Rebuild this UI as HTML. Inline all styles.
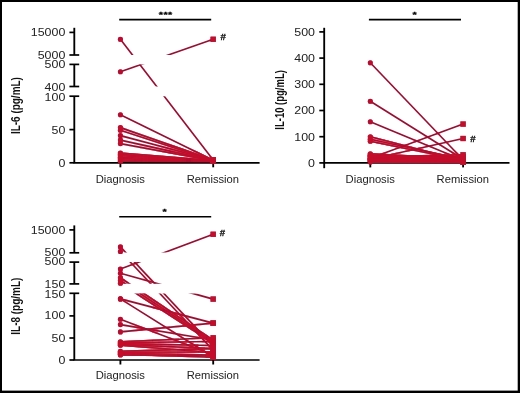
<!DOCTYPE html>
<html lang="en"><head><meta charset="utf-8"><title>Cytokine levels at diagnosis and remission</title>
<style>
html,body{margin:0;padding:0;background:#fff;}
body{width:520px;height:393px;overflow:hidden;font-family:"Liberation Sans",Arial,sans-serif;}
svg{display:block;}
</style></head><body>
<svg width="520" height="393" viewBox="0 0 520 393" font-family="'Liberation Sans', Arial, sans-serif">
<defs><filter id="jp" filterUnits="userSpaceOnUse" x="-10" y="-10" width="540" height="413" color-interpolation-filters="sRGB">
<feColorMatrix in="SourceGraphic" type="matrix" values="0.299 0.587 0.114 0 0  0.299 0.587 0.114 0 0  0.299 0.587 0.114 0 0  0 0 0 1 0" result="Y"/>
<feColorMatrix in="SourceGraphic" type="matrix" values="0.3505 -0.2935 -0.057 0 0.50196  -0.1495 0.2065 -0.057 0 0.50196  -0.1495 -0.2935 0.443 0 0.50196  0 0 0 1 0" result="C"/>
<feGaussianBlur in="C" stdDeviation="0.8" result="CB"/>
<feComposite in="Y" in2="CB" operator="arithmetic" k1="0" k2="1" k3="2" k4="-1.00392"/>
</filter>
<filter id="open" filterUnits="userSpaceOnUse" x="0" y="0" width="520" height="393">
<feMorphology operator="erode" radius="1"/>
<feMorphology operator="dilate" radius="1"/>
</filter>
<filter id="open2" filterUnits="userSpaceOnUse" x="0" y="0" width="520" height="393">
<feMorphology operator="erode" radius="2"/>
<feMorphology operator="dilate" radius="2"/>
</filter></defs>
<g filter="url(#jp)">
<rect x="-10" y="-10" width="540" height="413" fill="#000"/>
<rect x="2" y="2" width="515.7" height="388.6" fill="#fff"/>
<defs>
<clipPath id="c1">
<rect x="69.5" y="20.0" width="200" height="35.0"/>
<rect x="69.5" y="64.4" width="200" height="22.1"/>
<rect x="69.5" y="96.2" width="200" height="73.8"/>
</clipPath>
<clipPath id="c3">
<rect x="69.5" y="217.0" width="200" height="35.6"/>
<rect x="69.5" y="261.9" width="200" height="21.9"/>
<rect x="69.5" y="293.4" width="200" height="74.6"/>
</clipPath>
</defs>
<line x1="73.4" y1="162.8" x2="259.6" y2="162.8" stroke="#000" stroke-width="1.7"/>
<line x1="120.4" y1="162.8" x2="120.4" y2="167.3" stroke="#000" stroke-width="1.85"/>
<line x1="213.2" y1="162.8" x2="213.2" y2="167.3" stroke="#000" stroke-width="1.85"/>
<text transform="translate(120.3,182.7) scale(0.96,1)" text-anchor="middle" font-size="11.7" fill="#222">Diagnosis</text>
<text transform="translate(212.9,182.7) scale(0.96,1)" text-anchor="middle" font-size="11.7" fill="#222">Remission</text>
<line x1="74.3" y1="27.8" x2="74.3" y2="55.0" stroke="#000" stroke-width="1.85"/>
<line x1="69.4" y1="32.4" x2="74.3" y2="32.4" stroke="#000" stroke-width="1.7"/>
<line x1="69.4" y1="55.0" x2="79.2" y2="55.0" stroke="#000" stroke-width="1.7"/>
<line x1="74.3" y1="64.4" x2="74.3" y2="86.5" stroke="#000" stroke-width="1.85"/>
<line x1="69.4" y1="64.4" x2="79.2" y2="64.4" stroke="#000" stroke-width="1.7"/>
<line x1="69.4" y1="86.5" x2="79.2" y2="86.5" stroke="#000" stroke-width="1.7"/>
<line x1="74.3" y1="96.2" x2="74.3" y2="162.8" stroke="#000" stroke-width="1.85"/>
<line x1="69.4" y1="96.2" x2="79.2" y2="96.2" stroke="#000" stroke-width="1.7"/>
<line x1="69.4" y1="129.6" x2="74.3" y2="129.6" stroke="#000" stroke-width="1.7"/>
<line x1="69.4" y1="162.8" x2="74.3" y2="162.8" stroke="#000" stroke-width="1.7"/>
<text transform="translate(65.3,36.4) scale(1.13,1)" text-anchor="end" font-size="11" fill="#222">15000</text>
<text transform="translate(65.3,58.8) scale(1.13,1)" text-anchor="end" font-size="11" fill="#222">5000</text>
<text transform="translate(65.3,68.2) scale(1.13,1)" text-anchor="end" font-size="11" fill="#222">500</text>
<text transform="translate(65.3,90.5) scale(1.13,1)" text-anchor="end" font-size="11" fill="#222">400</text>
<text transform="translate(65.3,100.5) scale(1.13,1)" text-anchor="end" font-size="11" fill="#222">100</text>
<text transform="translate(65.3,133.7) scale(1.13,1)" text-anchor="end" font-size="11" fill="#222">50</text>
<text transform="translate(65.3,166.7) scale(1.13,1)" text-anchor="end" font-size="11" fill="#222">0</text>
<text transform="translate(20.4,105.6) rotate(-90)" text-anchor="middle" font-size="12" font-weight="bold" fill="#111" textLength="57" lengthAdjust="spacingAndGlyphs">IL-6 (pg/mL)</text>
<line x1="119.2" y1="19.6" x2="211.2" y2="19.6" stroke="#000" stroke-width="1.6"/>
<text transform="translate(165.7,16.9) scale(1.2,0.88)" text-anchor="middle" font-size="9" letter-spacing="0.35" font-weight="bold" fill="#000" stroke="#000" stroke-width="0.35">***</text>
<line x1="120.4" y1="39.3" x2="213.2" y2="160.0" stroke="#980e34" stroke-width="1.65" clip-path="url(#c1)"/>
<line x1="120.4" y1="71.7" x2="213.2" y2="39.3" stroke="#980e34" stroke-width="1.65" clip-path="url(#c1)"/>
<line x1="120.4" y1="114.8" x2="213.2" y2="160.2" stroke="#980e34" stroke-width="1.65" clip-path="url(#c1)"/>
<line x1="120.4" y1="127.6" x2="213.2" y2="160.0" stroke="#980e34" stroke-width="1.65" clip-path="url(#c1)"/>
<line x1="120.4" y1="130.3" x2="213.2" y2="160.5" stroke="#980e34" stroke-width="1.65" clip-path="url(#c1)"/>
<line x1="120.4" y1="135.6" x2="213.2" y2="160.3" stroke="#980e34" stroke-width="1.65" clip-path="url(#c1)"/>
<line x1="120.4" y1="140.1" x2="213.2" y2="160.6" stroke="#980e34" stroke-width="1.65" clip-path="url(#c1)"/>
<line x1="120.4" y1="143.6" x2="213.2" y2="160.8" stroke="#980e34" stroke-width="1.65" clip-path="url(#c1)"/>
<line x1="120.4" y1="153.0" x2="213.2" y2="160.5" stroke="#980e34" stroke-width="1.65" clip-path="url(#c1)"/>
<line x1="120.4" y1="154.4" x2="213.2" y2="161.0" stroke="#980e34" stroke-width="1.65" clip-path="url(#c1)"/>
<line x1="120.4" y1="155.8" x2="213.2" y2="160.8" stroke="#980e34" stroke-width="1.65" clip-path="url(#c1)"/>
<line x1="120.4" y1="157.2" x2="213.2" y2="161.0" stroke="#980e34" stroke-width="1.65" clip-path="url(#c1)"/>
<line x1="120.4" y1="158.6" x2="213.2" y2="161.2" stroke="#980e34" stroke-width="1.65" clip-path="url(#c1)"/>
<line x1="120.4" y1="160.0" x2="213.2" y2="161.0" stroke="#980e34" stroke-width="1.65" clip-path="url(#c1)"/>
<line x1="120.4" y1="161.2" x2="213.2" y2="161.4" stroke="#980e34" stroke-width="1.65" clip-path="url(#c1)"/>
<circle cx="120.4" cy="39.3" r="2.55" fill="#a51136"/>
<circle cx="120.4" cy="71.7" r="2.55" fill="#a51136"/>
<circle cx="120.4" cy="114.8" r="2.55" fill="#a51136"/>
<circle cx="120.4" cy="127.6" r="2.55" fill="#a51136"/>
<circle cx="120.4" cy="130.3" r="2.55" fill="#a51136"/>
<circle cx="120.4" cy="135.6" r="2.55" fill="#a51136"/>
<circle cx="120.4" cy="140.1" r="2.55" fill="#a51136"/>
<circle cx="120.4" cy="143.6" r="2.55" fill="#a51136"/>
<circle cx="120.4" cy="153.0" r="2.55" fill="#a51136"/>
<circle cx="120.4" cy="154.4" r="2.55" fill="#a51136"/>
<circle cx="120.4" cy="155.8" r="2.55" fill="#a51136"/>
<circle cx="120.4" cy="157.2" r="2.55" fill="#a51136"/>
<circle cx="120.4" cy="158.6" r="2.55" fill="#a51136"/>
<circle cx="120.4" cy="160.0" r="2.55" fill="#a51136"/>
<circle cx="120.4" cy="161.2" r="2.55" fill="#a51136"/>
<rect x="210.6" y="157.4" width="5.2" height="5.2" fill="#a51136"/>
<rect x="210.6" y="36.7" width="5.2" height="5.2" fill="#a51136"/>
<rect x="210.6" y="157.6" width="5.2" height="5.2" fill="#a51136"/>
<rect x="210.6" y="157.4" width="5.2" height="5.2" fill="#a51136"/>
<rect x="210.6" y="157.9" width="5.2" height="5.2" fill="#a51136"/>
<rect x="210.6" y="157.7" width="5.2" height="5.2" fill="#a51136"/>
<rect x="210.6" y="158.0" width="5.2" height="5.2" fill="#a51136"/>
<rect x="210.6" y="158.2" width="5.2" height="5.2" fill="#a51136"/>
<rect x="210.6" y="157.9" width="5.2" height="5.2" fill="#a51136"/>
<rect x="210.6" y="158.4" width="5.2" height="5.2" fill="#a51136"/>
<rect x="210.6" y="158.2" width="5.2" height="5.2" fill="#a51136"/>
<rect x="210.6" y="158.4" width="5.2" height="5.2" fill="#a51136"/>
<rect x="210.6" y="158.6" width="5.2" height="5.2" fill="#a51136"/>
<rect x="210.6" y="158.4" width="5.2" height="5.2" fill="#a51136"/>
<rect x="210.6" y="158.8" width="5.2" height="5.2" fill="#a51136"/>
<text x="220.5" y="39.5" font-size="9.6" font-weight="bold" fill="#111" stroke="#111" stroke-width="0.3">#</text>
<line x1="323.3" y1="162.9" x2="509.5" y2="162.9" stroke="#000" stroke-width="1.7"/>
<line x1="370.3" y1="162.9" x2="370.3" y2="167.4" stroke="#000" stroke-width="1.85"/>
<line x1="463.1" y1="162.9" x2="463.1" y2="167.4" stroke="#000" stroke-width="1.85"/>
<text transform="translate(370.2,182.7) scale(0.96,1)" text-anchor="middle" font-size="11.7" fill="#222">Diagnosis</text>
<text transform="translate(462.8,182.7) scale(0.96,1)" text-anchor="middle" font-size="11.7" fill="#222">Remission</text>
<line x1="324.2" y1="27.8" x2="324.2" y2="168.2" stroke="#000" stroke-width="1.85"/>
<line x1="319.3" y1="162.9" x2="324.2" y2="162.9" stroke="#000" stroke-width="1.7"/>
<text transform="translate(315.0,166.7) scale(1.13,1)" text-anchor="end" font-size="11" fill="#222">0</text>
<line x1="319.3" y1="136.7" x2="324.2" y2="136.7" stroke="#000" stroke-width="1.7"/>
<text transform="translate(315.0,140.5) scale(1.13,1)" text-anchor="end" font-size="11" fill="#222">100</text>
<line x1="319.3" y1="110.5" x2="324.2" y2="110.5" stroke="#000" stroke-width="1.7"/>
<text transform="translate(315.0,114.3) scale(1.13,1)" text-anchor="end" font-size="11" fill="#222">200</text>
<line x1="319.3" y1="84.3" x2="324.2" y2="84.3" stroke="#000" stroke-width="1.7"/>
<text transform="translate(315.0,88.1) scale(1.13,1)" text-anchor="end" font-size="11" fill="#222">300</text>
<line x1="319.3" y1="58.1" x2="324.2" y2="58.1" stroke="#000" stroke-width="1.7"/>
<text transform="translate(315.0,61.9) scale(1.13,1)" text-anchor="end" font-size="11" fill="#222">400</text>
<line x1="319.3" y1="31.9" x2="324.2" y2="31.9" stroke="#000" stroke-width="1.7"/>
<text transform="translate(315.0,35.7) scale(1.13,1)" text-anchor="end" font-size="11" fill="#222">500</text>
<text transform="translate(283.5,99.9) rotate(-90)" text-anchor="middle" font-size="12" font-weight="bold" fill="#111" textLength="59.5" lengthAdjust="spacingAndGlyphs">IL-10 (pg/mL)</text>
<line x1="368.9" y1="19.6" x2="461.0" y2="19.6" stroke="#000" stroke-width="1.6"/>
<text transform="translate(414.9,16.9) scale(1.2,0.88)" text-anchor="middle" font-size="9" letter-spacing="0.35" font-weight="bold" fill="#000" stroke="#000" stroke-width="0.35">*</text>
<line x1="370.3" y1="62.8" x2="463.1" y2="159.8" stroke="#980e34" stroke-width="1.65"/>
<line x1="370.3" y1="101.3" x2="463.1" y2="159.2" stroke="#980e34" stroke-width="1.65"/>
<line x1="370.3" y1="121.8" x2="463.1" y2="160.3" stroke="#980e34" stroke-width="1.65"/>
<line x1="370.3" y1="136.7" x2="463.1" y2="160.8" stroke="#980e34" stroke-width="1.65"/>
<line x1="370.3" y1="139.3" x2="463.1" y2="159.2" stroke="#980e34" stroke-width="1.65"/>
<line x1="370.3" y1="141.2" x2="463.1" y2="160.3" stroke="#980e34" stroke-width="1.65"/>
<line x1="370.3" y1="158.2" x2="463.1" y2="124.1" stroke="#980e34" stroke-width="1.65"/>
<line x1="370.3" y1="159.2" x2="463.1" y2="138.5" stroke="#980e34" stroke-width="1.65"/>
<line x1="370.3" y1="153.7" x2="463.1" y2="158.7" stroke="#980e34" stroke-width="1.65"/>
<line x1="370.3" y1="157.1" x2="463.1" y2="154.8" stroke="#980e34" stroke-width="1.65"/>
<line x1="370.3" y1="155.0" x2="463.1" y2="159.8" stroke="#980e34" stroke-width="1.65"/>
<line x1="370.3" y1="156.1" x2="463.1" y2="157.1" stroke="#980e34" stroke-width="1.65"/>
<line x1="370.3" y1="156.6" x2="463.1" y2="160.8" stroke="#980e34" stroke-width="1.65"/>
<line x1="370.3" y1="158.2" x2="463.1" y2="158.2" stroke="#980e34" stroke-width="1.65"/>
<line x1="370.3" y1="159.2" x2="463.1" y2="161.3" stroke="#980e34" stroke-width="1.65"/>
<line x1="370.3" y1="160.3" x2="463.1" y2="159.8" stroke="#980e34" stroke-width="1.65"/>
<line x1="370.3" y1="161.3" x2="463.1" y2="161.9" stroke="#980e34" stroke-width="1.65"/>
<line x1="370.3" y1="162.1" x2="463.1" y2="162.4" stroke="#980e34" stroke-width="1.65"/>
<line x1="370.3" y1="155.6" x2="463.1" y2="161.6" stroke="#980e34" stroke-width="1.65"/>
<line x1="370.3" y1="159.8" x2="463.1" y2="156.6" stroke="#980e34" stroke-width="1.65"/>
<circle cx="370.3" cy="62.8" r="2.55" fill="#a51136"/>
<circle cx="370.3" cy="101.3" r="2.55" fill="#a51136"/>
<circle cx="370.3" cy="121.8" r="2.55" fill="#a51136"/>
<circle cx="370.3" cy="136.7" r="2.55" fill="#a51136"/>
<circle cx="370.3" cy="139.3" r="2.55" fill="#a51136"/>
<circle cx="370.3" cy="141.2" r="2.55" fill="#a51136"/>
<circle cx="370.3" cy="158.2" r="2.55" fill="#a51136"/>
<circle cx="370.3" cy="159.2" r="2.55" fill="#a51136"/>
<circle cx="370.3" cy="153.7" r="2.55" fill="#a51136"/>
<circle cx="370.3" cy="157.1" r="2.55" fill="#a51136"/>
<circle cx="370.3" cy="155.0" r="2.55" fill="#a51136"/>
<circle cx="370.3" cy="156.1" r="2.55" fill="#a51136"/>
<circle cx="370.3" cy="156.6" r="2.55" fill="#a51136"/>
<circle cx="370.3" cy="158.2" r="2.55" fill="#a51136"/>
<circle cx="370.3" cy="159.2" r="2.55" fill="#a51136"/>
<circle cx="370.3" cy="160.3" r="2.55" fill="#a51136"/>
<circle cx="370.3" cy="161.3" r="2.55" fill="#a51136"/>
<circle cx="370.3" cy="162.1" r="2.55" fill="#a51136"/>
<circle cx="370.3" cy="155.6" r="2.55" fill="#a51136"/>
<circle cx="370.3" cy="159.8" r="2.55" fill="#a51136"/>
<rect x="460.5" y="157.2" width="5.2" height="5.2" fill="#a51136"/>
<rect x="460.5" y="156.6" width="5.2" height="5.2" fill="#a51136"/>
<rect x="460.5" y="157.7" width="5.2" height="5.2" fill="#a51136"/>
<rect x="460.5" y="158.2" width="5.2" height="5.2" fill="#a51136"/>
<rect x="460.5" y="156.6" width="5.2" height="5.2" fill="#a51136"/>
<rect x="460.5" y="157.7" width="5.2" height="5.2" fill="#a51136"/>
<rect x="460.5" y="121.5" width="5.2" height="5.2" fill="#a51136"/>
<rect x="460.5" y="135.9" width="5.2" height="5.2" fill="#a51136"/>
<rect x="460.5" y="156.1" width="5.2" height="5.2" fill="#a51136"/>
<rect x="460.5" y="152.2" width="5.2" height="5.2" fill="#a51136"/>
<rect x="460.5" y="157.2" width="5.2" height="5.2" fill="#a51136"/>
<rect x="460.5" y="154.5" width="5.2" height="5.2" fill="#a51136"/>
<rect x="460.5" y="158.2" width="5.2" height="5.2" fill="#a51136"/>
<rect x="460.5" y="155.6" width="5.2" height="5.2" fill="#a51136"/>
<rect x="460.5" y="158.7" width="5.2" height="5.2" fill="#a51136"/>
<rect x="460.5" y="157.2" width="5.2" height="5.2" fill="#a51136"/>
<rect x="460.5" y="159.3" width="5.2" height="5.2" fill="#a51136"/>
<rect x="460.5" y="159.8" width="5.2" height="5.2" fill="#a51136"/>
<rect x="460.5" y="159.0" width="5.2" height="5.2" fill="#a51136"/>
<rect x="460.5" y="154.0" width="5.2" height="5.2" fill="#a51136"/>
<text x="470.3" y="141.6" font-size="9.6" font-weight="bold" fill="#111" stroke="#111" stroke-width="0.3">#</text>
<line x1="73.4" y1="360.0" x2="259.6" y2="360.0" stroke="#000" stroke-width="1.7"/>
<line x1="120.4" y1="360.0" x2="120.4" y2="364.5" stroke="#000" stroke-width="1.85"/>
<line x1="213.2" y1="360.0" x2="213.2" y2="364.5" stroke="#000" stroke-width="1.85"/>
<text transform="translate(120.3,378.6) scale(0.96,1)" text-anchor="middle" font-size="11.7" fill="#222">Diagnosis</text>
<text transform="translate(212.9,378.6) scale(0.96,1)" text-anchor="middle" font-size="11.7" fill="#222">Remission</text>
<line x1="74.3" y1="225.4" x2="74.3" y2="252.8" stroke="#000" stroke-width="1.85"/>
<line x1="69.4" y1="229.9" x2="74.3" y2="229.9" stroke="#000" stroke-width="1.7"/>
<line x1="69.4" y1="252.8" x2="79.2" y2="252.8" stroke="#000" stroke-width="1.7"/>
<line x1="74.3" y1="262.1" x2="74.3" y2="283.9" stroke="#000" stroke-width="1.85"/>
<line x1="69.4" y1="262.1" x2="79.2" y2="262.1" stroke="#000" stroke-width="1.7"/>
<line x1="69.4" y1="283.9" x2="79.2" y2="283.9" stroke="#000" stroke-width="1.7"/>
<line x1="74.3" y1="293.3" x2="74.3" y2="360.0" stroke="#000" stroke-width="1.85"/>
<line x1="69.4" y1="293.3" x2="79.2" y2="293.3" stroke="#000" stroke-width="1.7"/>
<line x1="69.4" y1="315.9" x2="74.3" y2="315.9" stroke="#000" stroke-width="1.7"/>
<line x1="69.4" y1="338.0" x2="74.3" y2="338.0" stroke="#000" stroke-width="1.7"/>
<line x1="69.4" y1="360.0" x2="74.3" y2="360.0" stroke="#000" stroke-width="1.7"/>
<text transform="translate(65.3,233.9) scale(1.13,1)" text-anchor="end" font-size="11" fill="#222">15000</text>
<text transform="translate(65.3,255.8) scale(1.13,1)" text-anchor="end" font-size="11" fill="#222">500</text>
<text transform="translate(65.3,265.4) scale(1.13,1)" text-anchor="end" font-size="11" fill="#222">500</text>
<text transform="translate(65.3,288.0) scale(1.13,1)" text-anchor="end" font-size="11" fill="#222">150</text>
<text transform="translate(65.3,297.6) scale(1.13,1)" text-anchor="end" font-size="11" fill="#222">150</text>
<text transform="translate(65.3,319.3) scale(1.13,1)" text-anchor="end" font-size="11" fill="#222">100</text>
<text transform="translate(65.3,341.5) scale(1.13,1)" text-anchor="end" font-size="11" fill="#222">50</text>
<text transform="translate(65.3,363.9) scale(1.13,1)" text-anchor="end" font-size="11" fill="#222">0</text>
<text transform="translate(20.2,306.2) rotate(-90)" text-anchor="middle" font-size="12" font-weight="bold" fill="#111" textLength="57" lengthAdjust="spacingAndGlyphs">IL-8 (pg/mL)</text>
<line x1="119.2" y1="216.7" x2="211.2" y2="216.7" stroke="#000" stroke-width="1.6"/>
<text transform="translate(164.9,214.0) scale(1.2,0.88)" text-anchor="middle" font-size="9" letter-spacing="0.35" font-weight="bold" fill="#000" stroke="#000" stroke-width="0.35">*</text>
<line x1="120.4" y1="246.9" x2="213.2" y2="346.3" stroke="#980e34" stroke-width="1.65" clip-path="url(#c3)"/>
<line x1="120.4" y1="251.5" x2="213.2" y2="350.2" stroke="#980e34" stroke-width="1.65" clip-path="url(#c3)"/>
<line x1="120.4" y1="269.0" x2="213.2" y2="234.3" stroke="#980e34" stroke-width="1.65" clip-path="url(#c3)"/>
<line x1="120.4" y1="273.3" x2="213.2" y2="299.1" stroke="#980e34" stroke-width="1.65" clip-path="url(#c3)"/>
<line x1="120.4" y1="277.8" x2="213.2" y2="340.3" stroke="#980e34" stroke-width="1.65" clip-path="url(#c3)"/>
<line x1="120.4" y1="280.5" x2="213.2" y2="342.0" stroke="#980e34" stroke-width="1.65" clip-path="url(#c3)"/>
<line x1="120.4" y1="283.3" x2="213.2" y2="343.2" stroke="#980e34" stroke-width="1.65" clip-path="url(#c3)"/>
<line x1="120.4" y1="298.9" x2="213.2" y2="323.1" stroke="#980e34" stroke-width="1.65" clip-path="url(#c3)"/>
<line x1="120.4" y1="298.9" x2="213.2" y2="357.0" stroke="#980e34" stroke-width="1.65" clip-path="url(#c3)"/>
<line x1="120.4" y1="319.3" x2="213.2" y2="354.7" stroke="#980e34" stroke-width="1.65" clip-path="url(#c3)"/>
<line x1="120.4" y1="324.6" x2="213.2" y2="340.0" stroke="#980e34" stroke-width="1.65" clip-path="url(#c3)"/>
<line x1="120.4" y1="331.9" x2="213.2" y2="323.1" stroke="#980e34" stroke-width="1.65" clip-path="url(#c3)"/>
<line x1="120.4" y1="341.8" x2="213.2" y2="337.8" stroke="#980e34" stroke-width="1.65" clip-path="url(#c3)"/>
<line x1="120.4" y1="342.8" x2="213.2" y2="341.5" stroke="#980e34" stroke-width="1.65" clip-path="url(#c3)"/>
<line x1="120.4" y1="343.6" x2="213.2" y2="345.5" stroke="#980e34" stroke-width="1.65" clip-path="url(#c3)"/>
<line x1="120.4" y1="344.6" x2="213.2" y2="348.5" stroke="#980e34" stroke-width="1.65" clip-path="url(#c3)"/>
<line x1="120.4" y1="345.2" x2="213.2" y2="352.5" stroke="#980e34" stroke-width="1.65" clip-path="url(#c3)"/>
<line x1="120.4" y1="351.2" x2="213.2" y2="348.6" stroke="#980e34" stroke-width="1.65" clip-path="url(#c3)"/>
<line x1="120.4" y1="352.2" x2="213.2" y2="352.0" stroke="#980e34" stroke-width="1.65" clip-path="url(#c3)"/>
<line x1="120.4" y1="353.2" x2="213.2" y2="355.0" stroke="#980e34" stroke-width="1.65" clip-path="url(#c3)"/>
<line x1="120.4" y1="354.2" x2="213.2" y2="357.2" stroke="#980e34" stroke-width="1.65" clip-path="url(#c3)"/>
<line x1="120.4" y1="354.9" x2="213.2" y2="356.0" stroke="#980e34" stroke-width="1.65" clip-path="url(#c3)"/>
<circle cx="120.4" cy="246.9" r="2.55" fill="#a51136"/>
<circle cx="120.4" cy="251.5" r="2.55" fill="#a51136"/>
<circle cx="120.4" cy="269.0" r="2.55" fill="#a51136"/>
<circle cx="120.4" cy="273.3" r="2.55" fill="#a51136"/>
<circle cx="120.4" cy="277.8" r="2.55" fill="#a51136"/>
<circle cx="120.4" cy="280.5" r="2.55" fill="#a51136"/>
<circle cx="120.4" cy="283.3" r="2.55" fill="#a51136"/>
<circle cx="120.4" cy="298.9" r="2.55" fill="#a51136"/>
<circle cx="120.4" cy="298.9" r="2.55" fill="#a51136"/>
<circle cx="120.4" cy="319.3" r="2.55" fill="#a51136"/>
<circle cx="120.4" cy="324.6" r="2.55" fill="#a51136"/>
<circle cx="120.4" cy="331.9" r="2.55" fill="#a51136"/>
<circle cx="120.4" cy="341.8" r="2.55" fill="#a51136"/>
<circle cx="120.4" cy="342.8" r="2.55" fill="#a51136"/>
<circle cx="120.4" cy="343.6" r="2.55" fill="#a51136"/>
<circle cx="120.4" cy="344.6" r="2.55" fill="#a51136"/>
<circle cx="120.4" cy="345.2" r="2.55" fill="#a51136"/>
<circle cx="120.4" cy="351.2" r="2.55" fill="#a51136"/>
<circle cx="120.4" cy="352.2" r="2.55" fill="#a51136"/>
<circle cx="120.4" cy="353.2" r="2.55" fill="#a51136"/>
<circle cx="120.4" cy="354.2" r="2.55" fill="#a51136"/>
<circle cx="120.4" cy="354.9" r="2.55" fill="#a51136"/>
<rect x="210.6" y="343.7" width="5.2" height="5.2" fill="#a51136"/>
<rect x="210.6" y="347.6" width="5.2" height="5.2" fill="#a51136"/>
<rect x="210.6" y="231.7" width="5.2" height="5.2" fill="#a51136"/>
<rect x="210.6" y="296.5" width="5.2" height="5.2" fill="#a51136"/>
<rect x="210.6" y="337.7" width="5.2" height="5.2" fill="#a51136"/>
<rect x="210.6" y="339.4" width="5.2" height="5.2" fill="#a51136"/>
<rect x="210.6" y="340.6" width="5.2" height="5.2" fill="#a51136"/>
<rect x="210.6" y="320.5" width="5.2" height="5.2" fill="#a51136"/>
<rect x="210.6" y="354.4" width="5.2" height="5.2" fill="#a51136"/>
<rect x="210.6" y="352.1" width="5.2" height="5.2" fill="#a51136"/>
<rect x="210.6" y="337.4" width="5.2" height="5.2" fill="#a51136"/>
<rect x="210.6" y="320.5" width="5.2" height="5.2" fill="#a51136"/>
<rect x="210.6" y="335.2" width="5.2" height="5.2" fill="#a51136"/>
<rect x="210.6" y="338.9" width="5.2" height="5.2" fill="#a51136"/>
<rect x="210.6" y="342.9" width="5.2" height="5.2" fill="#a51136"/>
<rect x="210.6" y="345.9" width="5.2" height="5.2" fill="#a51136"/>
<rect x="210.6" y="349.9" width="5.2" height="5.2" fill="#a51136"/>
<rect x="210.6" y="346.0" width="5.2" height="5.2" fill="#a51136"/>
<rect x="210.6" y="349.4" width="5.2" height="5.2" fill="#a51136"/>
<rect x="210.6" y="352.4" width="5.2" height="5.2" fill="#a51136"/>
<rect x="210.6" y="354.6" width="5.2" height="5.2" fill="#a51136"/>
<rect x="210.6" y="353.4" width="5.2" height="5.2" fill="#a51136"/>
<text x="219.8" y="236.4" font-size="9.6" font-weight="bold" fill="#111" stroke="#111" stroke-width="0.3">#</text>
<g filter="url(#open)" opacity="0.55">
<line x1="120.4" y1="39.3" x2="213.2" y2="160.0" stroke="#c8102e" stroke-width="1.65" clip-path="url(#c1)"/>
<line x1="120.4" y1="71.7" x2="213.2" y2="39.3" stroke="#c8102e" stroke-width="1.65" clip-path="url(#c1)"/>
<line x1="120.4" y1="114.8" x2="213.2" y2="160.2" stroke="#c8102e" stroke-width="1.65" clip-path="url(#c1)"/>
<line x1="120.4" y1="127.6" x2="213.2" y2="160.0" stroke="#c8102e" stroke-width="1.65" clip-path="url(#c1)"/>
<line x1="120.4" y1="130.3" x2="213.2" y2="160.5" stroke="#c8102e" stroke-width="1.65" clip-path="url(#c1)"/>
<line x1="120.4" y1="135.6" x2="213.2" y2="160.3" stroke="#c8102e" stroke-width="1.65" clip-path="url(#c1)"/>
<line x1="120.4" y1="140.1" x2="213.2" y2="160.6" stroke="#c8102e" stroke-width="1.65" clip-path="url(#c1)"/>
<line x1="120.4" y1="143.6" x2="213.2" y2="160.8" stroke="#c8102e" stroke-width="1.65" clip-path="url(#c1)"/>
<line x1="120.4" y1="153.0" x2="213.2" y2="160.5" stroke="#c8102e" stroke-width="1.65" clip-path="url(#c1)"/>
<line x1="120.4" y1="154.4" x2="213.2" y2="161.0" stroke="#c8102e" stroke-width="1.65" clip-path="url(#c1)"/>
<line x1="120.4" y1="155.8" x2="213.2" y2="160.8" stroke="#c8102e" stroke-width="1.65" clip-path="url(#c1)"/>
<line x1="120.4" y1="157.2" x2="213.2" y2="161.0" stroke="#c8102e" stroke-width="1.65" clip-path="url(#c1)"/>
<line x1="120.4" y1="158.6" x2="213.2" y2="161.2" stroke="#c8102e" stroke-width="1.65" clip-path="url(#c1)"/>
<line x1="120.4" y1="160.0" x2="213.2" y2="161.0" stroke="#c8102e" stroke-width="1.65" clip-path="url(#c1)"/>
<line x1="120.4" y1="161.2" x2="213.2" y2="161.4" stroke="#c8102e" stroke-width="1.65" clip-path="url(#c1)"/>
<circle cx="120.4" cy="39.3" r="2.55" fill="#c8102e"/>
<circle cx="120.4" cy="71.7" r="2.55" fill="#c8102e"/>
<circle cx="120.4" cy="114.8" r="2.55" fill="#c8102e"/>
<circle cx="120.4" cy="127.6" r="2.55" fill="#c8102e"/>
<circle cx="120.4" cy="130.3" r="2.55" fill="#c8102e"/>
<circle cx="120.4" cy="135.6" r="2.55" fill="#c8102e"/>
<circle cx="120.4" cy="140.1" r="2.55" fill="#c8102e"/>
<circle cx="120.4" cy="143.6" r="2.55" fill="#c8102e"/>
<circle cx="120.4" cy="153.0" r="2.55" fill="#c8102e"/>
<circle cx="120.4" cy="154.4" r="2.55" fill="#c8102e"/>
<circle cx="120.4" cy="155.8" r="2.55" fill="#c8102e"/>
<circle cx="120.4" cy="157.2" r="2.55" fill="#c8102e"/>
<circle cx="120.4" cy="158.6" r="2.55" fill="#c8102e"/>
<circle cx="120.4" cy="160.0" r="2.55" fill="#c8102e"/>
<circle cx="120.4" cy="161.2" r="2.55" fill="#c8102e"/>
<rect x="210.6" y="157.4" width="5.2" height="5.2" fill="#c8102e"/>
<rect x="210.6" y="36.7" width="5.2" height="5.2" fill="#c8102e"/>
<rect x="210.6" y="157.6" width="5.2" height="5.2" fill="#c8102e"/>
<rect x="210.6" y="157.4" width="5.2" height="5.2" fill="#c8102e"/>
<rect x="210.6" y="157.9" width="5.2" height="5.2" fill="#c8102e"/>
<rect x="210.6" y="157.7" width="5.2" height="5.2" fill="#c8102e"/>
<rect x="210.6" y="158.0" width="5.2" height="5.2" fill="#c8102e"/>
<rect x="210.6" y="158.2" width="5.2" height="5.2" fill="#c8102e"/>
<rect x="210.6" y="157.9" width="5.2" height="5.2" fill="#c8102e"/>
<rect x="210.6" y="158.4" width="5.2" height="5.2" fill="#c8102e"/>
<rect x="210.6" y="158.2" width="5.2" height="5.2" fill="#c8102e"/>
<rect x="210.6" y="158.4" width="5.2" height="5.2" fill="#c8102e"/>
<rect x="210.6" y="158.6" width="5.2" height="5.2" fill="#c8102e"/>
<rect x="210.6" y="158.4" width="5.2" height="5.2" fill="#c8102e"/>
<rect x="210.6" y="158.8" width="5.2" height="5.2" fill="#c8102e"/>
<line x1="370.3" y1="62.8" x2="463.1" y2="159.8" stroke="#c8102e" stroke-width="1.65"/>
<line x1="370.3" y1="101.3" x2="463.1" y2="159.2" stroke="#c8102e" stroke-width="1.65"/>
<line x1="370.3" y1="121.8" x2="463.1" y2="160.3" stroke="#c8102e" stroke-width="1.65"/>
<line x1="370.3" y1="136.7" x2="463.1" y2="160.8" stroke="#c8102e" stroke-width="1.65"/>
<line x1="370.3" y1="139.3" x2="463.1" y2="159.2" stroke="#c8102e" stroke-width="1.65"/>
<line x1="370.3" y1="141.2" x2="463.1" y2="160.3" stroke="#c8102e" stroke-width="1.65"/>
<line x1="370.3" y1="158.2" x2="463.1" y2="124.1" stroke="#c8102e" stroke-width="1.65"/>
<line x1="370.3" y1="159.2" x2="463.1" y2="138.5" stroke="#c8102e" stroke-width="1.65"/>
<line x1="370.3" y1="153.7" x2="463.1" y2="158.7" stroke="#c8102e" stroke-width="1.65"/>
<line x1="370.3" y1="157.1" x2="463.1" y2="154.8" stroke="#c8102e" stroke-width="1.65"/>
<line x1="370.3" y1="155.0" x2="463.1" y2="159.8" stroke="#c8102e" stroke-width="1.65"/>
<line x1="370.3" y1="156.1" x2="463.1" y2="157.1" stroke="#c8102e" stroke-width="1.65"/>
<line x1="370.3" y1="156.6" x2="463.1" y2="160.8" stroke="#c8102e" stroke-width="1.65"/>
<line x1="370.3" y1="158.2" x2="463.1" y2="158.2" stroke="#c8102e" stroke-width="1.65"/>
<line x1="370.3" y1="159.2" x2="463.1" y2="161.3" stroke="#c8102e" stroke-width="1.65"/>
<line x1="370.3" y1="160.3" x2="463.1" y2="159.8" stroke="#c8102e" stroke-width="1.65"/>
<line x1="370.3" y1="161.3" x2="463.1" y2="161.9" stroke="#c8102e" stroke-width="1.65"/>
<line x1="370.3" y1="162.1" x2="463.1" y2="162.4" stroke="#c8102e" stroke-width="1.65"/>
<line x1="370.3" y1="155.6" x2="463.1" y2="161.6" stroke="#c8102e" stroke-width="1.65"/>
<line x1="370.3" y1="159.8" x2="463.1" y2="156.6" stroke="#c8102e" stroke-width="1.65"/>
<circle cx="370.3" cy="62.8" r="2.55" fill="#c8102e"/>
<circle cx="370.3" cy="101.3" r="2.55" fill="#c8102e"/>
<circle cx="370.3" cy="121.8" r="2.55" fill="#c8102e"/>
<circle cx="370.3" cy="136.7" r="2.55" fill="#c8102e"/>
<circle cx="370.3" cy="139.3" r="2.55" fill="#c8102e"/>
<circle cx="370.3" cy="141.2" r="2.55" fill="#c8102e"/>
<circle cx="370.3" cy="158.2" r="2.55" fill="#c8102e"/>
<circle cx="370.3" cy="159.2" r="2.55" fill="#c8102e"/>
<circle cx="370.3" cy="153.7" r="2.55" fill="#c8102e"/>
<circle cx="370.3" cy="157.1" r="2.55" fill="#c8102e"/>
<circle cx="370.3" cy="155.0" r="2.55" fill="#c8102e"/>
<circle cx="370.3" cy="156.1" r="2.55" fill="#c8102e"/>
<circle cx="370.3" cy="156.6" r="2.55" fill="#c8102e"/>
<circle cx="370.3" cy="158.2" r="2.55" fill="#c8102e"/>
<circle cx="370.3" cy="159.2" r="2.55" fill="#c8102e"/>
<circle cx="370.3" cy="160.3" r="2.55" fill="#c8102e"/>
<circle cx="370.3" cy="161.3" r="2.55" fill="#c8102e"/>
<circle cx="370.3" cy="162.1" r="2.55" fill="#c8102e"/>
<circle cx="370.3" cy="155.6" r="2.55" fill="#c8102e"/>
<circle cx="370.3" cy="159.8" r="2.55" fill="#c8102e"/>
<rect x="460.5" y="157.2" width="5.2" height="5.2" fill="#c8102e"/>
<rect x="460.5" y="156.6" width="5.2" height="5.2" fill="#c8102e"/>
<rect x="460.5" y="157.7" width="5.2" height="5.2" fill="#c8102e"/>
<rect x="460.5" y="158.2" width="5.2" height="5.2" fill="#c8102e"/>
<rect x="460.5" y="156.6" width="5.2" height="5.2" fill="#c8102e"/>
<rect x="460.5" y="157.7" width="5.2" height="5.2" fill="#c8102e"/>
<rect x="460.5" y="121.5" width="5.2" height="5.2" fill="#c8102e"/>
<rect x="460.5" y="135.9" width="5.2" height="5.2" fill="#c8102e"/>
<rect x="460.5" y="156.1" width="5.2" height="5.2" fill="#c8102e"/>
<rect x="460.5" y="152.2" width="5.2" height="5.2" fill="#c8102e"/>
<rect x="460.5" y="157.2" width="5.2" height="5.2" fill="#c8102e"/>
<rect x="460.5" y="154.5" width="5.2" height="5.2" fill="#c8102e"/>
<rect x="460.5" y="158.2" width="5.2" height="5.2" fill="#c8102e"/>
<rect x="460.5" y="155.6" width="5.2" height="5.2" fill="#c8102e"/>
<rect x="460.5" y="158.7" width="5.2" height="5.2" fill="#c8102e"/>
<rect x="460.5" y="157.2" width="5.2" height="5.2" fill="#c8102e"/>
<rect x="460.5" y="159.3" width="5.2" height="5.2" fill="#c8102e"/>
<rect x="460.5" y="159.8" width="5.2" height="5.2" fill="#c8102e"/>
<rect x="460.5" y="159.0" width="5.2" height="5.2" fill="#c8102e"/>
<rect x="460.5" y="154.0" width="5.2" height="5.2" fill="#c8102e"/>
<line x1="120.4" y1="246.9" x2="213.2" y2="346.3" stroke="#c8102e" stroke-width="1.65" clip-path="url(#c3)"/>
<line x1="120.4" y1="251.5" x2="213.2" y2="350.2" stroke="#c8102e" stroke-width="1.65" clip-path="url(#c3)"/>
<line x1="120.4" y1="269.0" x2="213.2" y2="234.3" stroke="#c8102e" stroke-width="1.65" clip-path="url(#c3)"/>
<line x1="120.4" y1="273.3" x2="213.2" y2="299.1" stroke="#c8102e" stroke-width="1.65" clip-path="url(#c3)"/>
<line x1="120.4" y1="277.8" x2="213.2" y2="340.3" stroke="#c8102e" stroke-width="1.65" clip-path="url(#c3)"/>
<line x1="120.4" y1="280.5" x2="213.2" y2="342.0" stroke="#c8102e" stroke-width="1.65" clip-path="url(#c3)"/>
<line x1="120.4" y1="283.3" x2="213.2" y2="343.2" stroke="#c8102e" stroke-width="1.65" clip-path="url(#c3)"/>
<line x1="120.4" y1="298.9" x2="213.2" y2="323.1" stroke="#c8102e" stroke-width="1.65" clip-path="url(#c3)"/>
<line x1="120.4" y1="298.9" x2="213.2" y2="357.0" stroke="#c8102e" stroke-width="1.65" clip-path="url(#c3)"/>
<line x1="120.4" y1="319.3" x2="213.2" y2="354.7" stroke="#c8102e" stroke-width="1.65" clip-path="url(#c3)"/>
<line x1="120.4" y1="324.6" x2="213.2" y2="340.0" stroke="#c8102e" stroke-width="1.65" clip-path="url(#c3)"/>
<line x1="120.4" y1="331.9" x2="213.2" y2="323.1" stroke="#c8102e" stroke-width="1.65" clip-path="url(#c3)"/>
<line x1="120.4" y1="341.8" x2="213.2" y2="337.8" stroke="#c8102e" stroke-width="1.65" clip-path="url(#c3)"/>
<line x1="120.4" y1="342.8" x2="213.2" y2="341.5" stroke="#c8102e" stroke-width="1.65" clip-path="url(#c3)"/>
<line x1="120.4" y1="343.6" x2="213.2" y2="345.5" stroke="#c8102e" stroke-width="1.65" clip-path="url(#c3)"/>
<line x1="120.4" y1="344.6" x2="213.2" y2="348.5" stroke="#c8102e" stroke-width="1.65" clip-path="url(#c3)"/>
<line x1="120.4" y1="345.2" x2="213.2" y2="352.5" stroke="#c8102e" stroke-width="1.65" clip-path="url(#c3)"/>
<line x1="120.4" y1="351.2" x2="213.2" y2="348.6" stroke="#c8102e" stroke-width="1.65" clip-path="url(#c3)"/>
<line x1="120.4" y1="352.2" x2="213.2" y2="352.0" stroke="#c8102e" stroke-width="1.65" clip-path="url(#c3)"/>
<line x1="120.4" y1="353.2" x2="213.2" y2="355.0" stroke="#c8102e" stroke-width="1.65" clip-path="url(#c3)"/>
<line x1="120.4" y1="354.2" x2="213.2" y2="357.2" stroke="#c8102e" stroke-width="1.65" clip-path="url(#c3)"/>
<line x1="120.4" y1="354.9" x2="213.2" y2="356.0" stroke="#c8102e" stroke-width="1.65" clip-path="url(#c3)"/>
<circle cx="120.4" cy="246.9" r="2.55" fill="#c8102e"/>
<circle cx="120.4" cy="251.5" r="2.55" fill="#c8102e"/>
<circle cx="120.4" cy="269.0" r="2.55" fill="#c8102e"/>
<circle cx="120.4" cy="273.3" r="2.55" fill="#c8102e"/>
<circle cx="120.4" cy="277.8" r="2.55" fill="#c8102e"/>
<circle cx="120.4" cy="280.5" r="2.55" fill="#c8102e"/>
<circle cx="120.4" cy="283.3" r="2.55" fill="#c8102e"/>
<circle cx="120.4" cy="298.9" r="2.55" fill="#c8102e"/>
<circle cx="120.4" cy="298.9" r="2.55" fill="#c8102e"/>
<circle cx="120.4" cy="319.3" r="2.55" fill="#c8102e"/>
<circle cx="120.4" cy="324.6" r="2.55" fill="#c8102e"/>
<circle cx="120.4" cy="331.9" r="2.55" fill="#c8102e"/>
<circle cx="120.4" cy="341.8" r="2.55" fill="#c8102e"/>
<circle cx="120.4" cy="342.8" r="2.55" fill="#c8102e"/>
<circle cx="120.4" cy="343.6" r="2.55" fill="#c8102e"/>
<circle cx="120.4" cy="344.6" r="2.55" fill="#c8102e"/>
<circle cx="120.4" cy="345.2" r="2.55" fill="#c8102e"/>
<circle cx="120.4" cy="351.2" r="2.55" fill="#c8102e"/>
<circle cx="120.4" cy="352.2" r="2.55" fill="#c8102e"/>
<circle cx="120.4" cy="353.2" r="2.55" fill="#c8102e"/>
<circle cx="120.4" cy="354.2" r="2.55" fill="#c8102e"/>
<circle cx="120.4" cy="354.9" r="2.55" fill="#c8102e"/>
<rect x="210.6" y="343.7" width="5.2" height="5.2" fill="#c8102e"/>
<rect x="210.6" y="347.6" width="5.2" height="5.2" fill="#c8102e"/>
<rect x="210.6" y="231.7" width="5.2" height="5.2" fill="#c8102e"/>
<rect x="210.6" y="296.5" width="5.2" height="5.2" fill="#c8102e"/>
<rect x="210.6" y="337.7" width="5.2" height="5.2" fill="#c8102e"/>
<rect x="210.6" y="339.4" width="5.2" height="5.2" fill="#c8102e"/>
<rect x="210.6" y="340.6" width="5.2" height="5.2" fill="#c8102e"/>
<rect x="210.6" y="320.5" width="5.2" height="5.2" fill="#c8102e"/>
<rect x="210.6" y="354.4" width="5.2" height="5.2" fill="#c8102e"/>
<rect x="210.6" y="352.1" width="5.2" height="5.2" fill="#c8102e"/>
<rect x="210.6" y="337.4" width="5.2" height="5.2" fill="#c8102e"/>
<rect x="210.6" y="320.5" width="5.2" height="5.2" fill="#c8102e"/>
<rect x="210.6" y="335.2" width="5.2" height="5.2" fill="#c8102e"/>
<rect x="210.6" y="338.9" width="5.2" height="5.2" fill="#c8102e"/>
<rect x="210.6" y="342.9" width="5.2" height="5.2" fill="#c8102e"/>
<rect x="210.6" y="345.9" width="5.2" height="5.2" fill="#c8102e"/>
<rect x="210.6" y="349.9" width="5.2" height="5.2" fill="#c8102e"/>
<rect x="210.6" y="346.0" width="5.2" height="5.2" fill="#c8102e"/>
<rect x="210.6" y="349.4" width="5.2" height="5.2" fill="#c8102e"/>
<rect x="210.6" y="352.4" width="5.2" height="5.2" fill="#c8102e"/>
<rect x="210.6" y="354.6" width="5.2" height="5.2" fill="#c8102e"/>
<rect x="210.6" y="353.4" width="5.2" height="5.2" fill="#c8102e"/>
</g>
<g filter="url(#open2)" opacity="0.85">
<line x1="120.4" y1="39.3" x2="213.2" y2="160.0" stroke="#c8102e" stroke-width="1.65" clip-path="url(#c1)"/>
<line x1="120.4" y1="71.7" x2="213.2" y2="39.3" stroke="#c8102e" stroke-width="1.65" clip-path="url(#c1)"/>
<line x1="120.4" y1="114.8" x2="213.2" y2="160.2" stroke="#c8102e" stroke-width="1.65" clip-path="url(#c1)"/>
<line x1="120.4" y1="127.6" x2="213.2" y2="160.0" stroke="#c8102e" stroke-width="1.65" clip-path="url(#c1)"/>
<line x1="120.4" y1="130.3" x2="213.2" y2="160.5" stroke="#c8102e" stroke-width="1.65" clip-path="url(#c1)"/>
<line x1="120.4" y1="135.6" x2="213.2" y2="160.3" stroke="#c8102e" stroke-width="1.65" clip-path="url(#c1)"/>
<line x1="120.4" y1="140.1" x2="213.2" y2="160.6" stroke="#c8102e" stroke-width="1.65" clip-path="url(#c1)"/>
<line x1="120.4" y1="143.6" x2="213.2" y2="160.8" stroke="#c8102e" stroke-width="1.65" clip-path="url(#c1)"/>
<line x1="120.4" y1="153.0" x2="213.2" y2="160.5" stroke="#c8102e" stroke-width="1.65" clip-path="url(#c1)"/>
<line x1="120.4" y1="154.4" x2="213.2" y2="161.0" stroke="#c8102e" stroke-width="1.65" clip-path="url(#c1)"/>
<line x1="120.4" y1="155.8" x2="213.2" y2="160.8" stroke="#c8102e" stroke-width="1.65" clip-path="url(#c1)"/>
<line x1="120.4" y1="157.2" x2="213.2" y2="161.0" stroke="#c8102e" stroke-width="1.65" clip-path="url(#c1)"/>
<line x1="120.4" y1="158.6" x2="213.2" y2="161.2" stroke="#c8102e" stroke-width="1.65" clip-path="url(#c1)"/>
<line x1="120.4" y1="160.0" x2="213.2" y2="161.0" stroke="#c8102e" stroke-width="1.65" clip-path="url(#c1)"/>
<line x1="120.4" y1="161.2" x2="213.2" y2="161.4" stroke="#c8102e" stroke-width="1.65" clip-path="url(#c1)"/>
<circle cx="120.4" cy="39.3" r="2.55" fill="#c8102e"/>
<circle cx="120.4" cy="71.7" r="2.55" fill="#c8102e"/>
<circle cx="120.4" cy="114.8" r="2.55" fill="#c8102e"/>
<circle cx="120.4" cy="127.6" r="2.55" fill="#c8102e"/>
<circle cx="120.4" cy="130.3" r="2.55" fill="#c8102e"/>
<circle cx="120.4" cy="135.6" r="2.55" fill="#c8102e"/>
<circle cx="120.4" cy="140.1" r="2.55" fill="#c8102e"/>
<circle cx="120.4" cy="143.6" r="2.55" fill="#c8102e"/>
<circle cx="120.4" cy="153.0" r="2.55" fill="#c8102e"/>
<circle cx="120.4" cy="154.4" r="2.55" fill="#c8102e"/>
<circle cx="120.4" cy="155.8" r="2.55" fill="#c8102e"/>
<circle cx="120.4" cy="157.2" r="2.55" fill="#c8102e"/>
<circle cx="120.4" cy="158.6" r="2.55" fill="#c8102e"/>
<circle cx="120.4" cy="160.0" r="2.55" fill="#c8102e"/>
<circle cx="120.4" cy="161.2" r="2.55" fill="#c8102e"/>
<rect x="210.6" y="157.4" width="5.2" height="5.2" fill="#c8102e"/>
<rect x="210.6" y="36.7" width="5.2" height="5.2" fill="#c8102e"/>
<rect x="210.6" y="157.6" width="5.2" height="5.2" fill="#c8102e"/>
<rect x="210.6" y="157.4" width="5.2" height="5.2" fill="#c8102e"/>
<rect x="210.6" y="157.9" width="5.2" height="5.2" fill="#c8102e"/>
<rect x="210.6" y="157.7" width="5.2" height="5.2" fill="#c8102e"/>
<rect x="210.6" y="158.0" width="5.2" height="5.2" fill="#c8102e"/>
<rect x="210.6" y="158.2" width="5.2" height="5.2" fill="#c8102e"/>
<rect x="210.6" y="157.9" width="5.2" height="5.2" fill="#c8102e"/>
<rect x="210.6" y="158.4" width="5.2" height="5.2" fill="#c8102e"/>
<rect x="210.6" y="158.2" width="5.2" height="5.2" fill="#c8102e"/>
<rect x="210.6" y="158.4" width="5.2" height="5.2" fill="#c8102e"/>
<rect x="210.6" y="158.6" width="5.2" height="5.2" fill="#c8102e"/>
<rect x="210.6" y="158.4" width="5.2" height="5.2" fill="#c8102e"/>
<rect x="210.6" y="158.8" width="5.2" height="5.2" fill="#c8102e"/>
<line x1="370.3" y1="62.8" x2="463.1" y2="159.8" stroke="#c8102e" stroke-width="1.65"/>
<line x1="370.3" y1="101.3" x2="463.1" y2="159.2" stroke="#c8102e" stroke-width="1.65"/>
<line x1="370.3" y1="121.8" x2="463.1" y2="160.3" stroke="#c8102e" stroke-width="1.65"/>
<line x1="370.3" y1="136.7" x2="463.1" y2="160.8" stroke="#c8102e" stroke-width="1.65"/>
<line x1="370.3" y1="139.3" x2="463.1" y2="159.2" stroke="#c8102e" stroke-width="1.65"/>
<line x1="370.3" y1="141.2" x2="463.1" y2="160.3" stroke="#c8102e" stroke-width="1.65"/>
<line x1="370.3" y1="158.2" x2="463.1" y2="124.1" stroke="#c8102e" stroke-width="1.65"/>
<line x1="370.3" y1="159.2" x2="463.1" y2="138.5" stroke="#c8102e" stroke-width="1.65"/>
<line x1="370.3" y1="153.7" x2="463.1" y2="158.7" stroke="#c8102e" stroke-width="1.65"/>
<line x1="370.3" y1="157.1" x2="463.1" y2="154.8" stroke="#c8102e" stroke-width="1.65"/>
<line x1="370.3" y1="155.0" x2="463.1" y2="159.8" stroke="#c8102e" stroke-width="1.65"/>
<line x1="370.3" y1="156.1" x2="463.1" y2="157.1" stroke="#c8102e" stroke-width="1.65"/>
<line x1="370.3" y1="156.6" x2="463.1" y2="160.8" stroke="#c8102e" stroke-width="1.65"/>
<line x1="370.3" y1="158.2" x2="463.1" y2="158.2" stroke="#c8102e" stroke-width="1.65"/>
<line x1="370.3" y1="159.2" x2="463.1" y2="161.3" stroke="#c8102e" stroke-width="1.65"/>
<line x1="370.3" y1="160.3" x2="463.1" y2="159.8" stroke="#c8102e" stroke-width="1.65"/>
<line x1="370.3" y1="161.3" x2="463.1" y2="161.9" stroke="#c8102e" stroke-width="1.65"/>
<line x1="370.3" y1="162.1" x2="463.1" y2="162.4" stroke="#c8102e" stroke-width="1.65"/>
<line x1="370.3" y1="155.6" x2="463.1" y2="161.6" stroke="#c8102e" stroke-width="1.65"/>
<line x1="370.3" y1="159.8" x2="463.1" y2="156.6" stroke="#c8102e" stroke-width="1.65"/>
<circle cx="370.3" cy="62.8" r="2.55" fill="#c8102e"/>
<circle cx="370.3" cy="101.3" r="2.55" fill="#c8102e"/>
<circle cx="370.3" cy="121.8" r="2.55" fill="#c8102e"/>
<circle cx="370.3" cy="136.7" r="2.55" fill="#c8102e"/>
<circle cx="370.3" cy="139.3" r="2.55" fill="#c8102e"/>
<circle cx="370.3" cy="141.2" r="2.55" fill="#c8102e"/>
<circle cx="370.3" cy="158.2" r="2.55" fill="#c8102e"/>
<circle cx="370.3" cy="159.2" r="2.55" fill="#c8102e"/>
<circle cx="370.3" cy="153.7" r="2.55" fill="#c8102e"/>
<circle cx="370.3" cy="157.1" r="2.55" fill="#c8102e"/>
<circle cx="370.3" cy="155.0" r="2.55" fill="#c8102e"/>
<circle cx="370.3" cy="156.1" r="2.55" fill="#c8102e"/>
<circle cx="370.3" cy="156.6" r="2.55" fill="#c8102e"/>
<circle cx="370.3" cy="158.2" r="2.55" fill="#c8102e"/>
<circle cx="370.3" cy="159.2" r="2.55" fill="#c8102e"/>
<circle cx="370.3" cy="160.3" r="2.55" fill="#c8102e"/>
<circle cx="370.3" cy="161.3" r="2.55" fill="#c8102e"/>
<circle cx="370.3" cy="162.1" r="2.55" fill="#c8102e"/>
<circle cx="370.3" cy="155.6" r="2.55" fill="#c8102e"/>
<circle cx="370.3" cy="159.8" r="2.55" fill="#c8102e"/>
<rect x="460.5" y="157.2" width="5.2" height="5.2" fill="#c8102e"/>
<rect x="460.5" y="156.6" width="5.2" height="5.2" fill="#c8102e"/>
<rect x="460.5" y="157.7" width="5.2" height="5.2" fill="#c8102e"/>
<rect x="460.5" y="158.2" width="5.2" height="5.2" fill="#c8102e"/>
<rect x="460.5" y="156.6" width="5.2" height="5.2" fill="#c8102e"/>
<rect x="460.5" y="157.7" width="5.2" height="5.2" fill="#c8102e"/>
<rect x="460.5" y="121.5" width="5.2" height="5.2" fill="#c8102e"/>
<rect x="460.5" y="135.9" width="5.2" height="5.2" fill="#c8102e"/>
<rect x="460.5" y="156.1" width="5.2" height="5.2" fill="#c8102e"/>
<rect x="460.5" y="152.2" width="5.2" height="5.2" fill="#c8102e"/>
<rect x="460.5" y="157.2" width="5.2" height="5.2" fill="#c8102e"/>
<rect x="460.5" y="154.5" width="5.2" height="5.2" fill="#c8102e"/>
<rect x="460.5" y="158.2" width="5.2" height="5.2" fill="#c8102e"/>
<rect x="460.5" y="155.6" width="5.2" height="5.2" fill="#c8102e"/>
<rect x="460.5" y="158.7" width="5.2" height="5.2" fill="#c8102e"/>
<rect x="460.5" y="157.2" width="5.2" height="5.2" fill="#c8102e"/>
<rect x="460.5" y="159.3" width="5.2" height="5.2" fill="#c8102e"/>
<rect x="460.5" y="159.8" width="5.2" height="5.2" fill="#c8102e"/>
<rect x="460.5" y="159.0" width="5.2" height="5.2" fill="#c8102e"/>
<rect x="460.5" y="154.0" width="5.2" height="5.2" fill="#c8102e"/>
<line x1="120.4" y1="246.9" x2="213.2" y2="346.3" stroke="#c8102e" stroke-width="1.65" clip-path="url(#c3)"/>
<line x1="120.4" y1="251.5" x2="213.2" y2="350.2" stroke="#c8102e" stroke-width="1.65" clip-path="url(#c3)"/>
<line x1="120.4" y1="269.0" x2="213.2" y2="234.3" stroke="#c8102e" stroke-width="1.65" clip-path="url(#c3)"/>
<line x1="120.4" y1="273.3" x2="213.2" y2="299.1" stroke="#c8102e" stroke-width="1.65" clip-path="url(#c3)"/>
<line x1="120.4" y1="277.8" x2="213.2" y2="340.3" stroke="#c8102e" stroke-width="1.65" clip-path="url(#c3)"/>
<line x1="120.4" y1="280.5" x2="213.2" y2="342.0" stroke="#c8102e" stroke-width="1.65" clip-path="url(#c3)"/>
<line x1="120.4" y1="283.3" x2="213.2" y2="343.2" stroke="#c8102e" stroke-width="1.65" clip-path="url(#c3)"/>
<line x1="120.4" y1="298.9" x2="213.2" y2="323.1" stroke="#c8102e" stroke-width="1.65" clip-path="url(#c3)"/>
<line x1="120.4" y1="298.9" x2="213.2" y2="357.0" stroke="#c8102e" stroke-width="1.65" clip-path="url(#c3)"/>
<line x1="120.4" y1="319.3" x2="213.2" y2="354.7" stroke="#c8102e" stroke-width="1.65" clip-path="url(#c3)"/>
<line x1="120.4" y1="324.6" x2="213.2" y2="340.0" stroke="#c8102e" stroke-width="1.65" clip-path="url(#c3)"/>
<line x1="120.4" y1="331.9" x2="213.2" y2="323.1" stroke="#c8102e" stroke-width="1.65" clip-path="url(#c3)"/>
<line x1="120.4" y1="341.8" x2="213.2" y2="337.8" stroke="#c8102e" stroke-width="1.65" clip-path="url(#c3)"/>
<line x1="120.4" y1="342.8" x2="213.2" y2="341.5" stroke="#c8102e" stroke-width="1.65" clip-path="url(#c3)"/>
<line x1="120.4" y1="343.6" x2="213.2" y2="345.5" stroke="#c8102e" stroke-width="1.65" clip-path="url(#c3)"/>
<line x1="120.4" y1="344.6" x2="213.2" y2="348.5" stroke="#c8102e" stroke-width="1.65" clip-path="url(#c3)"/>
<line x1="120.4" y1="345.2" x2="213.2" y2="352.5" stroke="#c8102e" stroke-width="1.65" clip-path="url(#c3)"/>
<line x1="120.4" y1="351.2" x2="213.2" y2="348.6" stroke="#c8102e" stroke-width="1.65" clip-path="url(#c3)"/>
<line x1="120.4" y1="352.2" x2="213.2" y2="352.0" stroke="#c8102e" stroke-width="1.65" clip-path="url(#c3)"/>
<line x1="120.4" y1="353.2" x2="213.2" y2="355.0" stroke="#c8102e" stroke-width="1.65" clip-path="url(#c3)"/>
<line x1="120.4" y1="354.2" x2="213.2" y2="357.2" stroke="#c8102e" stroke-width="1.65" clip-path="url(#c3)"/>
<line x1="120.4" y1="354.9" x2="213.2" y2="356.0" stroke="#c8102e" stroke-width="1.65" clip-path="url(#c3)"/>
<circle cx="120.4" cy="246.9" r="2.55" fill="#c8102e"/>
<circle cx="120.4" cy="251.5" r="2.55" fill="#c8102e"/>
<circle cx="120.4" cy="269.0" r="2.55" fill="#c8102e"/>
<circle cx="120.4" cy="273.3" r="2.55" fill="#c8102e"/>
<circle cx="120.4" cy="277.8" r="2.55" fill="#c8102e"/>
<circle cx="120.4" cy="280.5" r="2.55" fill="#c8102e"/>
<circle cx="120.4" cy="283.3" r="2.55" fill="#c8102e"/>
<circle cx="120.4" cy="298.9" r="2.55" fill="#c8102e"/>
<circle cx="120.4" cy="298.9" r="2.55" fill="#c8102e"/>
<circle cx="120.4" cy="319.3" r="2.55" fill="#c8102e"/>
<circle cx="120.4" cy="324.6" r="2.55" fill="#c8102e"/>
<circle cx="120.4" cy="331.9" r="2.55" fill="#c8102e"/>
<circle cx="120.4" cy="341.8" r="2.55" fill="#c8102e"/>
<circle cx="120.4" cy="342.8" r="2.55" fill="#c8102e"/>
<circle cx="120.4" cy="343.6" r="2.55" fill="#c8102e"/>
<circle cx="120.4" cy="344.6" r="2.55" fill="#c8102e"/>
<circle cx="120.4" cy="345.2" r="2.55" fill="#c8102e"/>
<circle cx="120.4" cy="351.2" r="2.55" fill="#c8102e"/>
<circle cx="120.4" cy="352.2" r="2.55" fill="#c8102e"/>
<circle cx="120.4" cy="353.2" r="2.55" fill="#c8102e"/>
<circle cx="120.4" cy="354.2" r="2.55" fill="#c8102e"/>
<circle cx="120.4" cy="354.9" r="2.55" fill="#c8102e"/>
<rect x="210.6" y="343.7" width="5.2" height="5.2" fill="#c8102e"/>
<rect x="210.6" y="347.6" width="5.2" height="5.2" fill="#c8102e"/>
<rect x="210.6" y="231.7" width="5.2" height="5.2" fill="#c8102e"/>
<rect x="210.6" y="296.5" width="5.2" height="5.2" fill="#c8102e"/>
<rect x="210.6" y="337.7" width="5.2" height="5.2" fill="#c8102e"/>
<rect x="210.6" y="339.4" width="5.2" height="5.2" fill="#c8102e"/>
<rect x="210.6" y="340.6" width="5.2" height="5.2" fill="#c8102e"/>
<rect x="210.6" y="320.5" width="5.2" height="5.2" fill="#c8102e"/>
<rect x="210.6" y="354.4" width="5.2" height="5.2" fill="#c8102e"/>
<rect x="210.6" y="352.1" width="5.2" height="5.2" fill="#c8102e"/>
<rect x="210.6" y="337.4" width="5.2" height="5.2" fill="#c8102e"/>
<rect x="210.6" y="320.5" width="5.2" height="5.2" fill="#c8102e"/>
<rect x="210.6" y="335.2" width="5.2" height="5.2" fill="#c8102e"/>
<rect x="210.6" y="338.9" width="5.2" height="5.2" fill="#c8102e"/>
<rect x="210.6" y="342.9" width="5.2" height="5.2" fill="#c8102e"/>
<rect x="210.6" y="345.9" width="5.2" height="5.2" fill="#c8102e"/>
<rect x="210.6" y="349.9" width="5.2" height="5.2" fill="#c8102e"/>
<rect x="210.6" y="346.0" width="5.2" height="5.2" fill="#c8102e"/>
<rect x="210.6" y="349.4" width="5.2" height="5.2" fill="#c8102e"/>
<rect x="210.6" y="352.4" width="5.2" height="5.2" fill="#c8102e"/>
<rect x="210.6" y="354.6" width="5.2" height="5.2" fill="#c8102e"/>
<rect x="210.6" y="353.4" width="5.2" height="5.2" fill="#c8102e"/>
</g>
</g>
</svg>
</body></html>
